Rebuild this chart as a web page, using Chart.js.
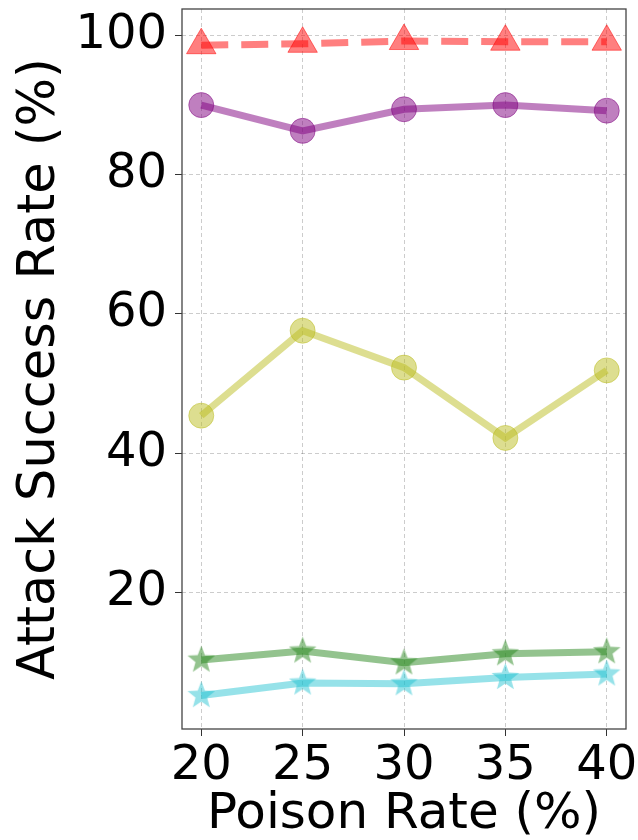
<!DOCTYPE html>
<html>
<head>
<meta charset="utf-8">
<script src="https://cdn.jsdelivr.net/npm/chart.js@4/dist/chart.umd.min.js"></script>
<style>
  html, body { margin: 0; padding: 0; background: #fff; }
  #wrap { width: 638px; height: 840px; }
</style>
</head>
<body>
<div id="wrap"><canvas id="asrChart" width="638" height="840"></canvas></div>
<script>
// Data
const poisonRates = [20, 25, 30, 35, 40];
const asrRed = [98.6, 98.8, 99.2, 99.1, 99.1];
const asrPurple = [90.0, 86.3, 89.4, 90.0, 89.2];
const asrOlive = [45.4, 57.6, 52.3, 42.2, 51.9];
const asrGreen = [10.3, 11.6, 9.9, 11.2, 11.5];
const asrCyan = [5.2, 7.0, 6.9, 7.8, 8.3];
const yTicks = [20, 40, 60, 80, 100];
const xTicks = [20, 25, 30, 35, 40];

const FONT = "'DejaVu Sans', sans-serif";

// filled 5-point star marker (Chart.js 'star' is just an asterisk)
function starMarker(color, r) {
  const size = Math.ceil(r * 2 + 4);
  const c = document.createElement('canvas');
  c.width = size; c.height = size;
  const g = c.getContext('2d');
  const cx = size / 2, cy = size / 2, inner = r * 0.42;
  g.beginPath();
  for (let i = 0; i < 10; i++) {
    const rad = i % 2 === 0 ? r : inner;
    const a = -Math.PI / 2 + i * Math.PI / 5;
    const px = cx + rad * Math.cos(a), py = cy + rad * Math.sin(a);
    if (i === 0) g.moveTo(px, py); else g.lineTo(px, py);
  }
  g.closePath();
  g.fillStyle = color;
  g.fill();
  return c;
}

function pts(values) {
  return values.map((v, i) => ({ x: poisonRates[i], y: v }));
}

const red = 'rgba(255,0,0,0.5)';
const purple = 'rgba(128,0,128,0.5)';
const olive = 'rgba(188,189,34,0.5)';
const green = 'rgba(40,135,30,0.5)';
const cyan = 'rgba(23,190,207,0.45)';

function series(values, color, extra) {
  return Object.assign({
    data: pts(values),
    borderColor: color,
    backgroundColor: color,
    pointBackgroundColor: color,
    pointBorderColor: color,
    borderWidth: 7,
    pointBorderWidth: 1,
    pointRadius: 12.5,
    pointHoverRadius: 12.5,
    tension: 0,
    clip: false
  }, extra);
}

// frame around the plot area
const framePlugin = {
  id: 'frame',
  afterDraw(chart) {
    const a = chart.chartArea, ctx = chart.ctx;
    ctx.save();
    ctx.strokeStyle = '#444';
    ctx.lineWidth = 1.3;
    ctx.strokeRect(a.left, a.top, a.right - a.left, a.bottom - a.top);
    ctx.restore();
  }
};

const gridOpts = {
  color: 'rgba(0,0,0,0.2)',
  tickColor: '#333',
  tickLength: 7,
  tickBorderDash: [],
  lineWidth: 1
};

new Chart(document.getElementById('asrChart'), {
  type: 'line',
  data: {
    datasets: [
      series(asrCyan, cyan, { pointStyle: starMarker(cyan, 14.5), order: 1 }),
      series(asrGreen, green, { pointStyle: starMarker(green, 14.5), order: 2 }),
      series(asrOlive, olive, { pointStyle: 'circle', order: 3 }),
      series(asrPurple, purple, { pointStyle: 'circle', order: 4 }),
      series(asrRed, red, { pointStyle: 'triangle', pointRadius: 17, pointHoverRadius: 17, borderDash: [27, 13], order: 5 })
    ]
  },
  options: {
    responsive: false,
    animation: false,
    events: [],
    layout: { autoPadding: false, padding: { top: 9, right: 12, left: 0, bottom: 0 } },
    plugins: {
      legend: { display: false },
      tooltip: { enabled: false }
    },
    scales: {
      x: {
        type: 'linear',
        min: 19.05,
        max: 40.95,
        afterFit(scale) {
          scale.height = 111;
          scale.paddingLeft = 0;
          scale.paddingRight = 0;
        },
        afterBuildTicks(scale) { scale.ticks = xTicks.map(v => ({ value: v })); },
        grid: gridOpts,
        border: { display: false, dash: [4, 3] },
        ticks: {
          color: '#000',
          font: { family: FONT, size: 48 },
          padding: 2,
          maxRotation: 0
        },
        title: {
          display: true,
          text: 'Poison Rate (%)',
          color: '#000',
          font: { family: FONT, size: 50, lineHeight: 1.0 },
          padding: { top: 0, bottom: 0 }
        }
      },
      y: {
        min: 0.4,
        max: 103.8,
        afterFit(scale) {
          scale.width = 182;
          scale.paddingTop = 0;
          scale.paddingBottom = 0;
        },
        afterBuildTicks(scale) { scale.ticks = yTicks.map(v => ({ value: v })); },
        grid: gridOpts,
        border: { display: false, dash: [4, 3] },
        ticks: {
          color: '#000',
          font: { family: FONT, size: 48 },
          padding: 8
        },
        title: {
          display: true,
          text: 'Attack Success Rate (%)',
          color: '#000',
          font: { family: FONT, size: 51 },
          padding: { top: 10, bottom: 0 }
        }
      }
    }
  },
  plugins: [framePlugin]
});
</script>
</body>
</html>
